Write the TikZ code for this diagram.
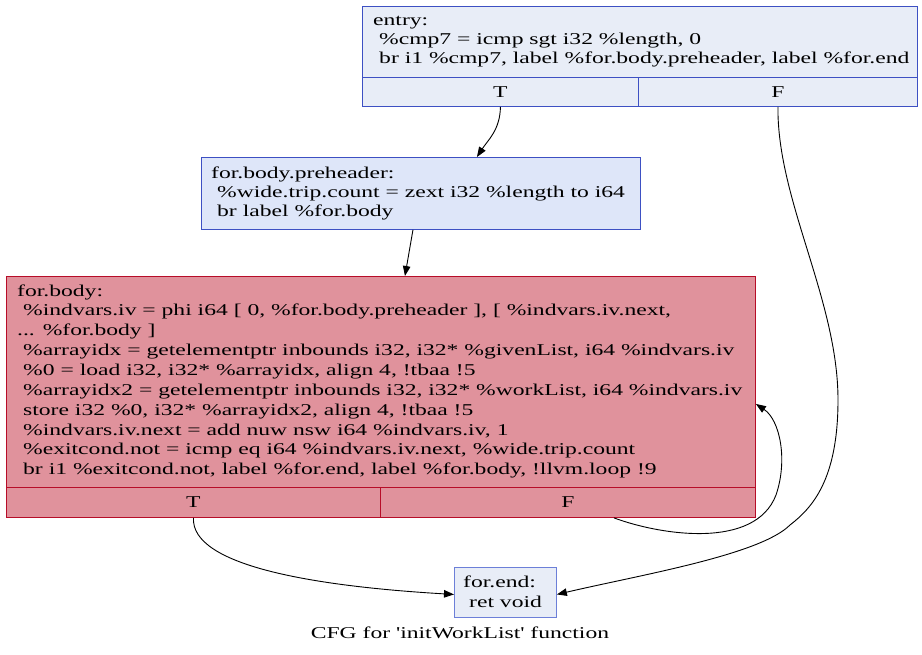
\documentclass[tikz,border=0pt]{standalone}
\usepackage{fontspec}
\setmainfont{Liberation Serif}[Ligatures=TeXOff, FakeStretch=1.43]
\usetikzlibrary{arrows.meta}
\definecolor{fillEntry}{HTML}{E8EDF7}
\definecolor{fillPre}{HTML}{DEE6F9}
\definecolor{fillBody}{HTML}{E0929C}
\definecolor{lineBlue}{HTML}{3D50C3}
\definecolor{lineBlueL}{HTML}{6C7FD8}
\definecolor{lineRed}{HTML}{B70D28}
\newcommand\myind{\hspace*{6pt}}
\tikzset{
  blk/.style={draw, line width=0.9pt, anchor=north west, inner sep=0pt, rectangle},
  txt/.style={anchor=north west, inner sep=0pt, align=left, font=\fontsize{16.5}{19.3}\selectfont},
  cell/.style={draw, line width=0.9pt, anchor=north west, inner sep=0pt, rectangle, font=\fontsize{16.5}{19.5}\selectfont},
  edge/.style={line width=0.9pt, -{Triangle[length=10pt,width=7.5pt]}},
}
\begin{document}
\begin{tikzpicture}[x=1pt,y=-1pt]
\useasboundingbox (0,0) rectangle (922,655);
% entry
\node[blk, fill=fillEntry, draw=lineBlue, minimum width=555pt, minimum height=71pt] (entry) at (362,6) {};
\node[cell, fill=fillEntry, draw=lineBlue, minimum width=276pt, minimum height=29pt] (entryT) at (362,77) {T};
\node[cell, fill=fillEntry, draw=lineBlue, minimum width=279pt, minimum height=29pt] (entryF) at (638,77) {F};
\node[txt] (entrytxt) at (373,11.5) {\strut entry:\\\myind\%cmp7 = icmp sgt i32 \%length, 0\\\myind br i1 \%cmp7, label \%for.body.preheader, label \%for.end};
% preheader
\node[blk, fill=fillPre, draw=lineBlue, minimum width=439pt, minimum height=72pt] (pre) at (201,157) {};
\node[txt] (pretxt) at (211,164.5) {\strut for.body.preheader:\\\myind\%wide.trip.count = zext i32 \%length to i64\\\myind br label \%for.body};
% for.body
\node[blk, fill=fillBody, draw=lineRed, minimum width=749pt, minimum height=211pt] (body) at (6,276) {};
\node[cell, fill=fillBody, draw=lineRed, minimum width=374pt, minimum height=30pt] (bodyT) at (6,487) {T};
\node[cell, fill=fillBody, draw=lineRed, minimum width=375pt, minimum height=30pt] (bodyF) at (380,487) {F};
\node[txt, font=\fontsize{16.5}{19.85}\selectfont] (bodytxt) at (17,282) {\strut for.body:\\
\myind\%indvars.iv = phi i64 [ 0, \%for.body.preheader ], [ \%indvars.iv.next,\\
... \%for.body ]\\
\myind\%arrayidx = getelementptr inbounds i32, i32* \%givenList, i64 \%indvars.iv\\
\myind\%0 = load i32, i32* \%arrayidx, align 4, !tbaa !5\\
\myind\%arrayidx2 = getelementptr inbounds i32, i32* \%workList, i64 \%indvars.iv\\
\myind store i32 \%0, i32* \%arrayidx2, align 4, !tbaa !5\\
\myind\%indvars.iv.next = add nuw nsw i64 \%indvars.iv, 1\\
\myind\%exitcond.not = icmp eq i64 \%indvars.iv.next, \%wide.trip.count\\
\myind br i1 \%exitcond.not, label \%for.end, label \%for.body, !llvm.loop !9};
% for.end
\node[blk, fill=fillEntry, draw=lineBlueL, minimum width=102pt, minimum height=50pt] (fend) at (454,567) {};
\node[txt] (fendtxt) at (463,574) {\strut for.end:\\\myind ret void};
% caption
\node[font=\fontsize{16.5}{19}\selectfont, inner sep=0pt] (caption) at (460,633) {CFG for 'initWorkList' function};
% edges
\draw[edge] (entryT.south) .. controls (500,130) and (488,140) .. ([xshift=56pt]pre.north);
\draw[edge] (entryF.south) .. controls (777,200) and (838,300) .. (838,400)
   .. controls (838,480) and (812,508) .. (790,525)
   .. controls (760,555) and (640,575) .. ([yshift=-2pt]fend.east);
\draw[edge] ([xshift=-8pt]pre.south) -- ([xshift=24pt]body.north);
\draw[edge] ([xshift=46pt]bodyF.south) .. controls (660,535) and (755,550) .. (776,495)
   .. controls (788,460) and (780,420) .. ([yshift=-22pt]body.east);
\draw[edge] (bodyT.south) .. controls (191,565) and (310,586) .. ([yshift=-2pt]fend.west);
\end{tikzpicture}
\end{document}
